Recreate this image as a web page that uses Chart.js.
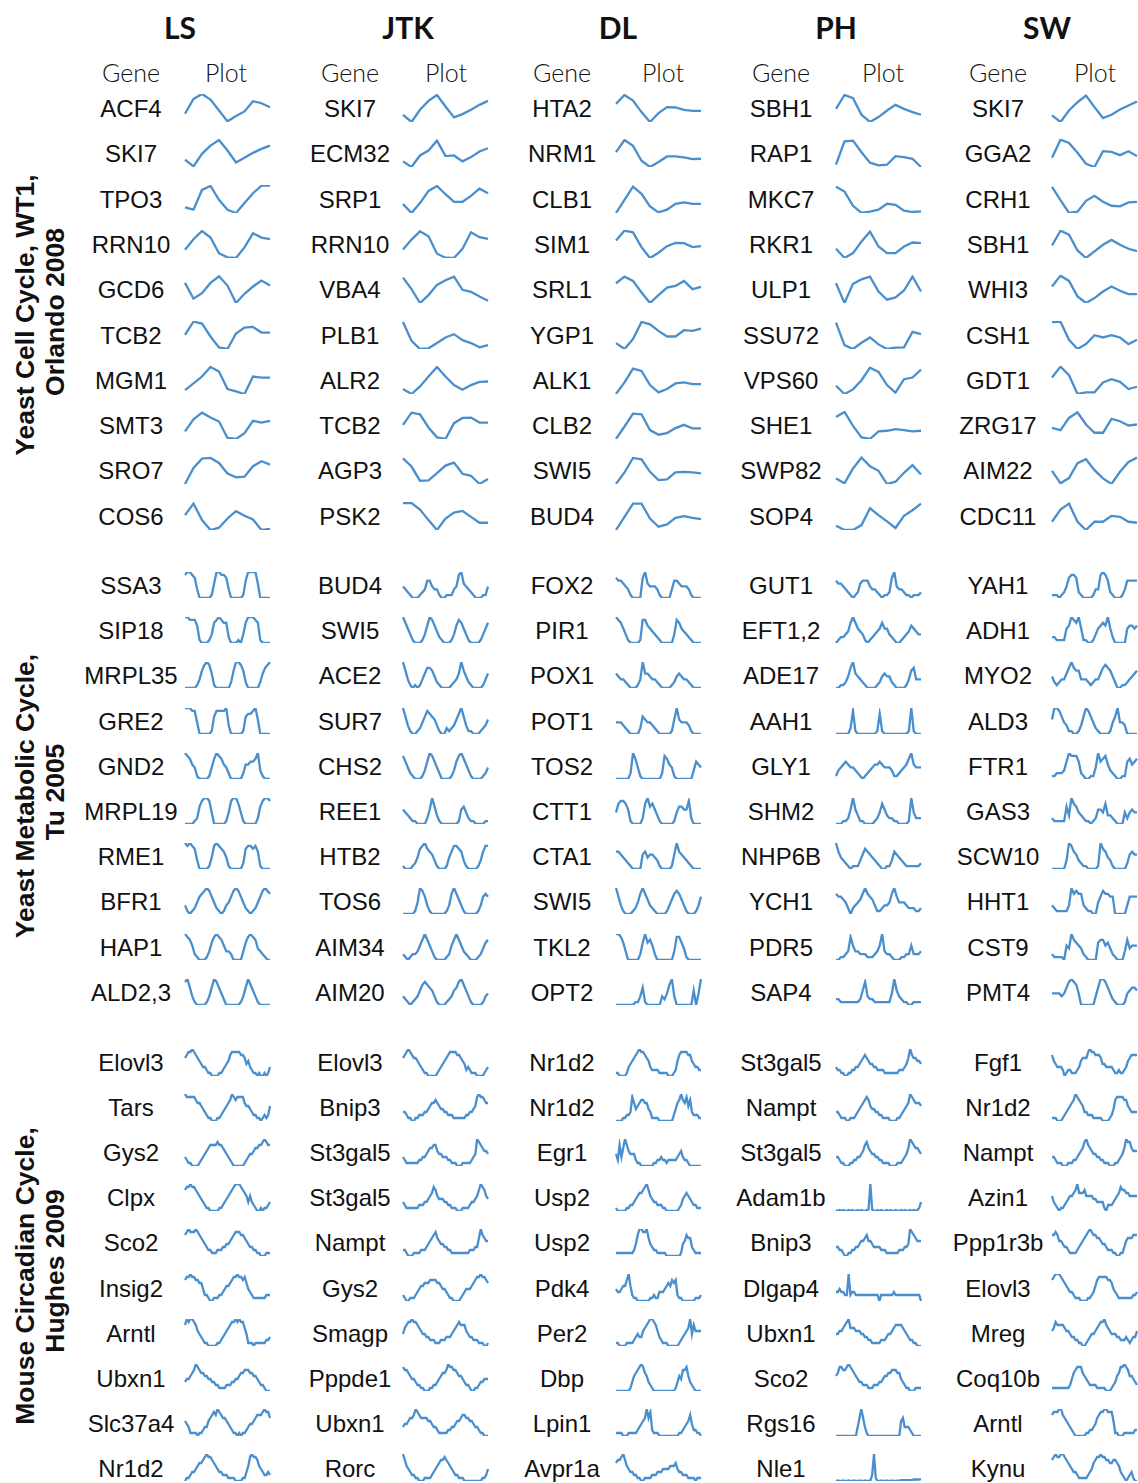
<!DOCTYPE html>
<html>
<head>
<meta charset="utf-8">
<script src="https://cdn.jsdelivr.net/npm/chart.js@4.4.0/dist/chart.umd.min.js"></script>
<style>
body { margin: 0; width: 1138px; height: 1483px; background: #fff; position: relative; overflow: hidden; font-family: 'Liberation Sans', Arial, sans-serif; color: #111; }
.t { position: absolute; white-space: nowrap; transform: translate(-50%, -50%); line-height: 1; }
.title { font-family: Lato, 'Noto Sans', sans-serif; font-weight: 700; font-size: 30px; }
.head { font-family: Lato, 'Noto Sans', sans-serif; font-weight: 300; font-size: 25px; }
.gene { font-size: 24px; }
.side { font-weight: 700; font-size: 26.5px; transform: translate(-50%, -50%) rotate(-90deg); }
canvas { position: absolute; }
</style>
</head>
<body>
<script>
const methods = ['LS', 'JTK', 'DL', 'PH', 'SW'];

// gene names, one list per method
const cellGenes = [
    ['ACF4', 'SKI7', 'TPO3', 'RRN10', 'GCD6', 'TCB2', 'MGM1', 'SMT3', 'SRO7', 'COS6'],
    ['SKI7', 'ECM32', 'SRP1', 'RRN10', 'VBA4', 'PLB1', 'ALR2', 'TCB2', 'AGP3', 'PSK2'],
    ['HTA2', 'NRM1', 'CLB1', 'SIM1', 'SRL1', 'YGP1', 'ALK1', 'CLB2', 'SWI5', 'BUD4'],
    ['SBH1', 'RAP1', 'MKC7', 'RKR1', 'ULP1', 'SSU72', 'VPS60', 'SHE1', 'SWP82', 'SOP4'],
    ['SKI7', 'GGA2', 'CRH1', 'SBH1', 'WHI3', 'CSH1', 'GDT1', 'ZRG17', 'AIM22', 'CDC11']
];
const metaGenes = [
    ['SSA3', 'SIP18', 'MRPL35', 'GRE2', 'GND2', 'MRPL19', 'RME1', 'BFR1', 'HAP1', 'ALD2,3'],
    ['BUD4', 'SWI5', 'ACE2', 'SUR7', 'CHS2', 'REE1', 'HTB2', 'TOS6', 'AIM34', 'AIM20'],
    ['FOX2', 'PIR1', 'POX1', 'POT1', 'TOS2', 'CTT1', 'CTA1', 'SWI5', 'TKL2', 'OPT2'],
    ['GUT1', 'EFT1,2', 'ADE17', 'AAH1', 'GLY1', 'SHM2', 'NHP6B', 'YCH1', 'PDR5', 'SAP4'],
    ['YAH1', 'ADH1', 'MYO2', 'ALD3', 'FTR1', 'GAS3', 'SCW10', 'HHT1', 'CST9', 'PMT4']
];
const circGenes = [
    ['Elovl3', 'Tars', 'Gys2', 'Clpx', 'Sco2', 'Insig2', 'Arntl', 'Ubxn1', 'Slc37a4', 'Nr1d2'],
    ['Elovl3', 'Bnip3', 'St3gal5', 'St3gal5', 'Nampt', 'Gys2', 'Smagp', 'Pppde1', 'Ubxn1', 'Rorc'],
    ['Nr1d2', 'Nr1d2', 'Egr1', 'Usp2', 'Usp2', 'Pdk4', 'Per2', 'Dbp', 'Lpin1', 'Avpr1a'],
    ['St3gal5', 'Nampt', 'St3gal5', 'Adam1b', 'Bnip3', 'Dlgap4', 'Ubxn1', 'Sco2', 'Rgs16', 'Nle1'],
    ['Fgf1', 'Nr1d2', 'Nampt', 'Azin1', 'Ppp1r3b', 'Elovl3', 'Mreg', 'Coq10b', 'Arntl', 'Kynu']
];

// Yeast cell cycle, 11 time points
const cellLS = [
    [25, 70, 85, 68, 35, 2, 18, 32, 63, 57, 45],
    [22, 2, 40, 65, 82, 50, 14, 28, 43, 55, 65],
    [17, 10, 70, 82, 40, 10, 0, 30, 60, 83, 83],
    [25, 57, 82, 62, 14, 2, 0, 32, 75, 62, 57],
    [61, 13, 30, 61, 81, 53, 0, 28, 50, 68, 53],
    [43, 83, 77, 38, 5, 0, 47, 65, 67, 50, 50],
    [12, 32, 53, 82, 68, 15, 8, 0, 53, 50, 50],
    [23, 60, 80, 65, 53, 3, 0, 18, 55, 50, 55],
    [0, 49, 77, 79, 64, 32, 20, 22, 54, 69, 59],
    [45, 80, 30, 0, 7, 35, 57, 43, 32, 0, 3]
];
const cellJTK = [
    [22, 0, 37, 64, 82, 47, 14, 24, 37, 52, 64],
    [17, 0, 35, 50, 80, 33, 35, 17, 30, 47, 57],
    [27, 0, 30, 67, 82, 57, 34, 34, 52, 74, 60],
    [26, 56, 81, 66, 13, 1, 0, 28, 78, 63, 58],
    [77, 42, 0, 24, 55, 69, 80, 40, 34, 20, 7],
    [82, 25, 0, 2, 18, 35, 45, 27, 18, 5, 12],
    [15, 0, 23, 53, 82, 53, 27, 13, 27, 37, 38],
    [43, 80, 75, 35, 5, 0, 48, 64, 65, 50, 50],
    [78, 53, 10, 11, 33, 56, 65, 31, 25, 0, 15],
    [82, 82, 62, 30, 0, 35, 53, 58, 40, 22, 22]
];
const cellDL = [
    [55, 82, 65, 30, 0, 27, 45, 44, 37, 34, 34],
    [45, 82, 64, 19, 0, 15, 32, 32, 29, 24, 25],
    [0, 40, 80, 58, 20, 2, 10, 28, 32, 28, 28],
    [53, 83, 78, 33, 0, 16, 36, 46, 45, 33, 36],
    [60, 80, 67, 32, 0, 24, 47, 52, 67, 42, 49],
    [18, 0, 30, 82, 75, 55, 38, 38, 57, 55, 62],
    [0, 35, 77, 70, 27, 5, 15, 32, 35, 30, 30],
    [0, 38, 77, 75, 27, 13, 18, 33, 43, 32, 32],
    [0, 35, 79, 75, 37, 12, 14, 35, 37, 35, 32],
    [0, 40, 80, 80, 35, 10, 17, 37, 42, 37, 33]
];
const cellPH = [
    [40, 82, 72, 22, 0, 15, 35, 52, 40, 30, 22],
    [7, 78, 80, 45, 13, 5, 7, 33, 30, 25, 0],
    [80, 65, 22, 0, 4, 10, 28, 25, 7, 3, 5],
    [28, 0, 15, 50, 80, 35, 15, 15, 35, 47, 45],
    [60, 0, 58, 72, 80, 35, 10, 17, 38, 80, 35],
    [80, 12, 0, 19, 35, 14, 0, 4, 5, 52, 45],
    [25, 0, 14, 42, 80, 67, 27, 4, 45, 50, 74],
    [67, 82, 40, 5, 0, 23, 25, 30, 27, 23, 25],
    [17, 2, 47, 80, 54, 40, 0, 7, 34, 57, 29],
    [13, 0, 0, 15, 66, 45, 26, 6, 43, 60, 80]
];
const cellSW = [
    [20, 0, 35, 60, 80, 45, 12, 22, 38, 50, 62],
    [28, 83, 73, 43, 10, 0, 48, 46, 36, 48, 33],
    [79, 39, 0, 4, 37, 52, 34, 22, 20, 32, 34],
    [38, 83, 71, 23, 0, 20, 40, 55, 40, 28, 21],
    [50, 83, 67, 20, 0, 15, 35, 50, 37, 27, 27],
    [82, 83, 28, 0, 15, 42, 35, 42, 35, 15, 28],
    [50, 83, 57, 0, 5, 5, 35, 45, 37, 15, 22],
    [34, 27, 64, 81, 44, 19, 19, 61, 54, 41, 44],
    [40, 2, 18, 63, 75, 42, 17, 0, 37, 67, 80],
    [25, 62, 80, 25, 0, 25, 25, 43, 40, 25, 22]
];

// Yeast metabolic cycle, 36 time points
const metaLS = [
    [8, 9, 9, 8, 7, 3, 0, 0, 0, 0, 0, 1, 5, 9, 9, 8, 8, 7, 3, 0, 0, 0, 0, 0, 1, 6, 9, 9, 9, 9, 5, 0, 0, 0, 0, 0],
    [9, 9, 8, 8, 8, 6, 1, 0, 0, 0, 1, 3, 7, 8, 9, 8, 7, 7, 2, 0, 0, 0, 1, 0, 3, 7, 9, 9, 9, 8, 7, 1, 0, 0, 0, 0],
    [0, 0, 0, 0, 0, 1, 3, 6, 8, 9, 8, 5, 1, 0, 0, 0, 0, 0, 0, 2, 6, 9, 9, 8, 6, 2, 0, 0, 0, 0, 0, 2, 5, 7, 8, 9],
    [9, 9, 9, 8, 8, 4, 0, 0, 0, 0, 0, 1, 6, 8, 8, 8, 8, 9, 3, 0, 0, 0, 0, 0, 1, 6, 7, 7, 8, 9, 5, 0, 0, 0, 0, 0],
    [9, 8, 7, 5, 4, 1, 0, 0, 0, 0, 1, 4, 7, 9, 8, 7, 5, 4, 2, 0, 0, 0, 0, 0, 2, 5, 5, 6, 6, 7, 9, 3, 1, 0, 0, 0],
    [0, 0, 0, 0, 1, 2, 6, 8, 9, 9, 8, 4, 0, 0, 0, 0, 0, 1, 4, 8, 9, 9, 7, 4, 1, 0, 0, 0, 0, 0, 2, 6, 8, 9, 9, 8],
    [9, 8, 9, 8, 7, 3, 0, 0, 0, 0, 1, 4, 8, 9, 8, 7, 6, 4, 1, 0, 0, 0, 0, 0, 2, 7, 8, 8, 7, 8, 6, 1, 0, 0, 0, 0],
    [3, 1, 0, 1, 2, 4, 6, 7, 8, 9, 8, 6, 4, 2, 1, 0, 1, 3, 4, 6, 8, 9, 8, 6, 4, 2, 1, 0, 1, 2, 4, 6, 8, 9, 8, 7],
    [9, 8, 7, 5, 2, 1, 0, 0, 0, 1, 3, 6, 8, 9, 8, 7, 5, 3, 3, 2, 0, 0, 0, 0, 3, 6, 8, 9, 8, 7, 4, 3, 2, 1, 0, 0],
    [8, 9, 6, 3, 1, 0, 0, 0, 0, 1, 3, 6, 9, 8, 6, 4, 2, 0, 0, 0, 0, 0, 0, 1, 3, 6, 9, 7, 5, 3, 1, 0, 0, 0, 0, 0]
];
const metaJTK = [
    [4, 3, 2, 1, 0, 0, 0, 1, 2, 3, 6, 6, 4, 3, 3, 1, 0, 0, 1, 1, 1, 3, 4, 8, 9, 5, 4, 3, 2, 1, 0, 0, 0, 1, 1, 4],
    [9, 7, 5, 3, 1, 0, 0, 0, 1, 3, 6, 9, 8, 6, 4, 2, 1, 0, 0, 0, 1, 3, 6, 8, 7, 5, 3, 1, 0, 0, 0, 0, 1, 3, 5, 7],
    [9, 6, 3, 1, 0, 1, 0, 1, 3, 5, 7, 7, 6, 4, 2, 1, 0, 0, 0, 0, 1, 2, 3, 5, 9, 6, 4, 2, 1, 0, 0, 0, 0, 1, 3, 5],
    [9, 6, 3, 1, 0, 0, 1, 2, 4, 6, 8, 7, 6, 5, 3, 1, 0, 0, 2, 1, 2, 3, 5, 7, 9, 6, 3, 1, 1, 0, 0, 0, 1, 2, 3, 5],
    [8, 6, 4, 2, 1, 0, 0, 0, 1, 3, 6, 9, 8, 6, 4, 2, 0, 0, 0, 0, 1, 3, 6, 8, 9, 7, 5, 3, 1, 0, 0, 0, 0, 1, 2, 4],
    [5, 4, 3, 2, 1, 1, 0, 0, 0, 0, 2, 5, 9, 6, 3, 1, 0, 0, 0, 0, 0, 0, 0, 1, 5, 6, 4, 2, 1, 1, 0, 0, 0, 0, 1, 1],
    [1, 0, 0, 0, 1, 2, 4, 7, 8, 9, 7, 6, 5, 3, 1, 0, 0, 0, 1, 4, 6, 8, 8, 7, 6, 3, 1, 0, 0, 0, 0, 1, 3, 6, 8, 8],
    [0, 0, 0, 0, 0, 1, 4, 9, 8, 6, 3, 1, 0, 0, 0, 0, 0, 0, 1, 3, 7, 9, 7, 5, 3, 1, 0, 0, 0, 0, 0, 1, 3, 6, 7, 6],
    [2, 1, 0, 1, 2, 2, 3, 5, 7, 9, 7, 5, 3, 1, 0, 0, 0, 0, 1, 2, 5, 7, 9, 7, 5, 3, 2, 1, 0, 0, 0, 1, 2, 4, 6, 7],
    [3, 2, 1, 0, 1, 2, 3, 5, 7, 8, 7, 6, 5, 3, 1, 0, 0, 0, 1, 2, 3, 5, 6, 8, 9, 7, 5, 3, 1, 0, 0, 0, 0, 1, 3, 4]
];
const metaDL = [
    [7, 6, 6, 5, 4, 3, 1, 0, 0, 0, 0, 7, 9, 5, 4, 4, 4, 3, 1, 0, 0, 0, 0, 3, 6, 6, 5, 4, 4, 4, 3, 1, 0, 0, 0, 0],
    [9, 8, 7, 5, 3, 1, 0, 0, 0, 0, 1, 8, 8, 6, 5, 4, 3, 2, 1, 0, 0, 0, 0, 0, 3, 8, 7, 5, 4, 3, 2, 1, 0, 0, 0, 0],
    [5, 4, 3, 3, 2, 1, 0, 0, 0, 1, 3, 9, 5, 5, 4, 3, 3, 2, 1, 0, 0, 0, 0, 1, 2, 4, 5, 4, 3, 3, 2, 1, 0, 0, 0, 0],
    [4, 4, 4, 3, 2, 1, 0, 0, 0, 0, 2, 6, 5, 4, 4, 3, 2, 1, 0, 0, 0, 0, 0, 1, 5, 9, 5, 4, 4, 4, 3, 1, 0, 0, 0, 0],
    [0, 0, 0, 0, 0, 0, 2, 9, 7, 4, 1, 0, 0, 0, 0, 0, 0, 0, 0, 2, 8, 7, 5, 4, 1, 0, 0, 0, 0, 0, 0, 0, 3, 6, 5, 4],
    [4, 7, 8, 8, 7, 5, 1, 0, 0, 0, 0, 2, 7, 9, 6, 7, 5, 3, 1, 0, 0, 0, 0, 0, 1, 4, 6, 6, 5, 5, 8, 2, 0, 0, 0, 0],
    [6, 6, 5, 4, 3, 2, 1, 0, 0, 0, 0, 5, 6, 4, 5, 5, 4, 3, 1, 0, 0, 0, 0, 1, 5, 9, 6, 5, 4, 3, 2, 1, 0, 0, 0, 0],
    [9, 6, 3, 1, 0, 0, 0, 1, 2, 4, 7, 9, 7, 5, 3, 2, 1, 0, 0, 0, 0, 1, 3, 5, 7, 8, 7, 5, 3, 1, 0, 0, 0, 1, 3, 6],
    [9, 9, 8, 6, 3, 0, 0, 0, 0, 0, 2, 6, 9, 6, 7, 5, 2, 0, 0, 0, 0, 0, 0, 0, 3, 8, 8, 6, 4, 1, 0, 0, 0, 0, 0, 0],
    [0, 0, 0, 0, 0, 0, 0, 0, 1, 1, 3, 6, 1, 0, 0, 0, 0, 0, 0, 3, 2, 4, 7, 9, 3, 0, 0, 0, 0, 0, 0, 0, 5, 0, 4, 9]
];
const metaPH = [
    [6, 5, 5, 4, 3, 2, 1, 0, 1, 2, 5, 6, 6, 6, 4, 3, 3, 2, 1, 0, 1, 1, 2, 7, 9, 4, 3, 3, 2, 1, 1, 0, 1, 1, 1, 2],
    [0, 1, 2, 2, 3, 4, 7, 9, 7, 5, 4, 3, 1, 0, 1, 2, 3, 4, 5, 7, 5, 5, 3, 2, 1, 0, 0, 1, 2, 3, 4, 6, 5, 4, 3, 3],
    [0, 0, 1, 1, 2, 4, 7, 9, 5, 4, 3, 2, 1, 0, 0, 0, 0, 1, 2, 4, 5, 4, 4, 2, 1, 0, 0, 0, 0, 1, 3, 6, 7, 3, 3, 3],
    [0, 0, 0, 0, 0, 0, 2, 8, 1, 0, 0, 0, 0, 0, 0, 0, 0, 1, 7, 1, 0, 0, 0, 0, 0, 0, 0, 0, 0, 0, 1, 9, 1, 0, 0, 0],
    [1, 3, 4, 5, 6, 5, 4, 4, 3, 2, 1, 0, 1, 2, 3, 4, 5, 5, 6, 5, 4, 4, 4, 3, 1, 1, 2, 3, 4, 5, 7, 9, 5, 4, 4, 4],
    [0, 0, 0, 1, 1, 2, 5, 9, 5, 3, 1, 1, 0, 0, 0, 0, 1, 2, 4, 7, 5, 3, 2, 2, 1, 1, 0, 0, 0, 0, 1, 9, 4, 2, 2, 2],
    [9, 6, 4, 3, 2, 1, 0, 1, 1, 1, 3, 5, 7, 6, 5, 4, 3, 2, 1, 0, 0, 1, 1, 3, 6, 5, 4, 3, 2, 1, 1, 1, 1, 1, 1, 2],
    [7, 6, 6, 5, 4, 2, 0, 2, 3, 4, 5, 7, 9, 7, 6, 5, 3, 1, 1, 2, 3, 3, 4, 7, 9, 6, 4, 4, 4, 3, 2, 2, 2, 1, 1, 2],
    [0, 0, 1, 1, 2, 3, 8, 5, 3, 3, 2, 2, 2, 1, 1, 1, 2, 3, 5, 9, 3, 2, 2, 1, 0, 0, 0, 1, 1, 2, 2, 5, 2, 2, 2, 3],
    [2, 2, 1, 1, 1, 1, 1, 1, 1, 1, 2, 5, 8, 3, 2, 2, 1, 1, 1, 1, 1, 1, 1, 4, 9, 5, 3, 2, 1, 1, 0, 0, 1, 1, 1, 1]
];
const metaSW = [
    [1, 1, 1, 0, 1, 2, 4, 7, 8, 8, 7, 2, 1, 0, 0, 0, 0, 1, 3, 3, 8, 9, 8, 6, 2, 1, 0, 0, 0, 1, 3, 6, 6, 6, 6, 6],
    [2, 2, 1, 1, 1, 1, 5, 6, 9, 8, 7, 9, 5, 1, 1, 0, 0, 1, 3, 5, 6, 7, 6, 9, 5, 2, 0, 0, 0, 0, 0, 5, 6, 6, 5, 6],
    [4, 2, 1, 2, 3, 3, 5, 7, 9, 7, 6, 6, 3, 3, 3, 2, 1, 2, 3, 3, 5, 7, 8, 7, 6, 4, 2, 0, 0, 1, 1, 2, 3, 4, 5, 6],
    [5, 9, 9, 8, 6, 4, 3, 1, 1, 0, 0, 1, 3, 6, 9, 8, 6, 4, 2, 1, 0, 0, 0, 0, 1, 4, 6, 9, 4, 4, 3, 0, 0, 0, 0, 0],
    [1, 1, 2, 2, 2, 3, 6, 9, 8, 8, 8, 6, 2, 1, 0, 0, 1, 1, 4, 9, 6, 7, 8, 5, 3, 2, 1, 0, 0, 1, 1, 6, 7, 5, 6, 7],
    [2, 1, 1, 1, 1, 1, 6, 3, 9, 7, 6, 4, 3, 2, 1, 1, 0, 1, 2, 5, 5, 4, 7, 3, 3, 2, 1, 0, 0, 0, 4, 2, 4, 5, 4, 4],
    [0, 0, 0, 0, 0, 0, 3, 9, 8, 6, 5, 3, 2, 1, 1, 0, 0, 0, 0, 1, 9, 7, 6, 4, 3, 1, 0, 0, 0, 0, 0, 2, 5, 6, 5, 5],
    [3, 2, 1, 1, 1, 1, 1, 3, 9, 7, 8, 7, 7, 3, 2, 1, 1, 0, 0, 4, 6, 8, 7, 7, 6, 6, 0, 0, 0, 0, 0, 3, 6, 6, 6, 6],
    [2, 1, 1, 1, 1, 0, 5, 4, 9, 7, 6, 5, 4, 2, 1, 0, 0, 0, 0, 6, 7, 7, 5, 6, 4, 2, 1, 0, 0, 0, 3, 7, 4, 5, 5, 5],
    [4, 4, 4, 4, 3, 4, 6, 8, 9, 8, 7, 4, 0, 0, 0, 0, 0, 0, 3, 6, 9, 9, 8, 6, 4, 2, 1, 0, 0, 0, 1, 4, 5, 6, 6, 5]
];

// Mouse circadian cycle, 48 time points
const circLS = [
    [6, 7, 8, 8, 9, 8, 7, 6, 5, 4, 3, 3, 2, 1, 1, 0, 0, 0, 0, 1, 1, 2, 3, 4, 5, 7, 8, 8, 8, 8, 8, 7, 7, 6, 4, 5, 3, 2, 1, 1, 0, 1, 0, 0, 1, 0, 1, 3],
    [9, 8, 8, 8, 8, 8, 7, 6, 6, 5, 4, 3, 2, 1, 1, 0, 0, 0, 1, 1, 2, 3, 4, 5, 6, 7, 9, 8, 7, 8, 8, 8, 8, 6, 5, 5, 4, 3, 2, 2, 1, 1, 0, 1, 2, 1, 2, 5],
    [3, 2, 1, 1, 0, 0, 0, 0, 1, 2, 3, 4, 5, 6, 7, 7, 7, 7, 8, 7, 7, 6, 5, 4, 3, 2, 1, 0, 0, 0, 0, 0, 0, 1, 2, 3, 4, 4, 5, 6, 6, 7, 7, 8, 9, 8, 7, 7],
    [7, 8, 8, 9, 8, 8, 7, 6, 5, 4, 3, 2, 1, 1, 0, 0, 0, 0, 0, 1, 1, 2, 3, 4, 5, 6, 7, 8, 9, 9, 9, 8, 7, 6, 5, 3, 5, 3, 2, 1, 0, 0, 1, 0, 1, 1, 2, 3],
    [7, 8, 9, 8, 8, 8, 9, 8, 7, 6, 5, 4, 3, 2, 2, 1, 1, 1, 2, 2, 2, 3, 3, 4, 4, 5, 6, 7, 8, 8, 8, 7, 7, 6, 5, 4, 3, 3, 2, 2, 1, 1, 0, 0, 0, 1, 1, 1],
    [7, 8, 8, 9, 8, 8, 7, 7, 6, 6, 4, 2, 2, 1, 0, 0, 1, 1, 1, 2, 2, 3, 4, 5, 5, 6, 7, 8, 8, 9, 8, 8, 7, 8, 6, 4, 3, 2, 1, 1, 1, 1, 1, 1, 1, 2, 2, 2],
    [7, 9, 8, 9, 9, 8, 7, 5, 4, 3, 2, 1, 1, 0, 0, 0, 0, 0, 1, 1, 2, 3, 4, 5, 6, 7, 8, 8, 9, 8, 9, 8, 8, 6, 4, 1, 1, 1, 0, 1, 1, 1, 1, 1, 1, 2, 2, 3],
    [3, 4, 4, 5, 6, 7, 9, 8, 7, 6, 6, 5, 5, 4, 4, 3, 3, 2, 2, 1, 1, 1, 1, 2, 2, 2, 3, 3, 4, 4, 5, 6, 6, 7, 7, 7, 6, 6, 5, 5, 4, 3, 2, 2, 1, 0, 0, 0],
    [5, 4, 3, 1, 1, 1, 1, 0, 1, 1, 2, 3, 3, 5, 6, 7, 8, 7, 9, 8, 7, 6, 6, 5, 4, 3, 2, 1, 1, 0, 1, 0, 1, 1, 2, 3, 4, 4, 5, 6, 7, 7, 7, 8, 9, 8, 8, 6],
    [0, 1, 1, 2, 3, 3, 4, 5, 6, 6, 7, 8, 9, 8, 8, 7, 6, 5, 4, 3, 3, 2, 2, 2, 1, 1, 1, 1, 0, 0, 0, 0, 1, 1, 3, 5, 8, 9, 8, 8, 7, 5, 4, 3, 2, 2, 3, 2]
];
const circJTK = [
    [6, 7, 8, 9, 8, 7, 6, 6, 5, 4, 3, 2, 1, 1, 0, 0, 0, 0, 0, 1, 2, 3, 4, 5, 6, 7, 8, 8, 8, 8, 7, 7, 6, 5, 4, 2, 3, 2, 1, 1, 1, 0, 0, 0, 0, 1, 2, 3],
    [3, 3, 2, 1, 1, 0, 0, 1, 1, 2, 2, 2, 3, 3, 4, 5, 6, 6, 7, 6, 5, 4, 4, 3, 3, 2, 2, 2, 1, 1, 1, 1, 1, 1, 1, 2, 2, 3, 3, 4, 5, 8, 9, 8, 8, 7, 6, 6],
    [3, 2, 1, 1, 1, 1, 1, 1, 1, 2, 2, 3, 3, 4, 5, 6, 6, 7, 7, 5, 4, 4, 3, 3, 3, 2, 2, 1, 1, 1, 0, 0, 0, 1, 1, 1, 1, 1, 2, 3, 4, 9, 8, 7, 6, 5, 5, 4],
    [3, 2, 1, 1, 1, 1, 1, 1, 1, 2, 2, 2, 3, 3, 4, 5, 6, 8, 7, 5, 4, 4, 4, 3, 3, 2, 2, 1, 1, 1, 0, 0, 0, 1, 1, 1, 1, 2, 3, 3, 4, 5, 7, 9, 8, 7, 5, 4],
    [2, 2, 1, 0, 0, 0, 1, 1, 1, 1, 2, 2, 2, 3, 4, 5, 6, 7, 8, 6, 5, 4, 4, 3, 3, 2, 2, 1, 1, 1, 1, 1, 1, 1, 1, 1, 1, 2, 2, 2, 3, 3, 6, 9, 7, 6, 5, 5],
    [2, 1, 0, 0, 1, 1, 1, 2, 3, 4, 5, 5, 6, 6, 6, 7, 7, 7, 7, 6, 6, 5, 4, 4, 3, 2, 1, 1, 0, 0, 0, 0, 1, 2, 3, 4, 4, 4, 5, 6, 7, 8, 8, 9, 8, 8, 7, 6],
    [4, 6, 7, 8, 8, 9, 8, 8, 7, 6, 5, 4, 4, 3, 3, 2, 2, 2, 1, 1, 1, 2, 2, 2, 3, 3, 3, 4, 5, 6, 7, 8, 7, 7, 7, 5, 4, 3, 3, 2, 2, 2, 1, 1, 1, 0, 0, 1],
    [8, 7, 7, 6, 5, 4, 4, 3, 2, 2, 1, 1, 0, 0, 0, 1, 1, 2, 2, 3, 4, 5, 6, 6, 7, 9, 8, 8, 7, 7, 6, 5, 5, 4, 3, 2, 2, 1, 0, 0, 1, 1, 2, 3, 3, 4, 4, 4],
    [3, 4, 4, 5, 6, 6, 7, 9, 8, 7, 6, 6, 6, 6, 5, 5, 4, 3, 3, 2, 1, 1, 1, 1, 1, 2, 2, 3, 3, 4, 5, 5, 6, 7, 7, 6, 6, 5, 5, 4, 3, 3, 2, 1, 1, 0, 0, 0],
    [9, 7, 5, 4, 3, 2, 2, 1, 1, 0, 0, 0, 1, 1, 1, 1, 2, 3, 4, 5, 6, 7, 7, 8, 7, 6, 5, 4, 3, 2, 2, 1, 1, 1, 0, 0, 0, 0, 0, 0, 0, 0, 0, 0, 1, 1, 2, 4]
];
const circDL = [
    [1, 1, 0, 0, 0, 0, 1, 3, 4, 5, 6, 7, 8, 9, 8, 8, 7, 6, 5, 3, 2, 2, 2, 2, 1, 1, 1, 1, 1, 0, 0, 0, 1, 2, 5, 7, 8, 8, 8, 8, 7, 7, 5, 4, 3, 3, 2, 2],
    [0, 0, 0, 0, 1, 1, 2, 2, 3, 8, 6, 4, 5, 6, 7, 7, 6, 6, 4, 3, 1, 1, 1, 1, 0, 0, 0, 0, 0, 0, 0, 0, 2, 4, 6, 7, 9, 7, 6, 8, 5, 7, 3, 2, 2, 2, 1, 1],
    [4, 2, 7, 3, 6, 9, 7, 5, 4, 4, 4, 2, 1, 1, 0, 0, 0, 0, 0, 0, 0, 1, 1, 2, 2, 3, 2, 2, 1, 2, 2, 2, 2, 2, 3, 4, 5, 3, 2, 2, 1, 0, 0, 0, 0, 0, 0, 0],
    [1, 0, 0, 0, 0, 0, 1, 1, 2, 2, 3, 4, 5, 6, 6, 7, 8, 9, 7, 5, 4, 3, 3, 2, 2, 2, 1, 1, 0, 0, 0, 0, 0, 0, 0, 1, 2, 4, 5, 6, 5, 4, 3, 2, 2, 1, 1, 1],
    [1, 1, 1, 1, 1, 1, 1, 1, 1, 1, 2, 4, 7, 9, 9, 8, 8, 9, 6, 4, 3, 2, 2, 1, 1, 1, 1, 1, 0, 0, 0, 0, 0, 0, 0, 0, 1, 4, 5, 7, 6, 6, 3, 2, 1, 1, 1, 1],
    [4, 3, 3, 4, 5, 5, 7, 9, 5, 2, 1, 1, 0, 0, 0, 0, 0, 0, 0, 1, 1, 2, 1, 1, 3, 3, 3, 4, 5, 6, 5, 7, 6, 7, 2, 1, 1, 0, 0, 0, 0, 0, 0, 0, 1, 1, 1, 2],
    [1, 1, 0, 0, 0, 0, 1, 1, 1, 1, 2, 3, 4, 3, 3, 5, 6, 7, 8, 9, 9, 8, 7, 5, 3, 2, 1, 1, 1, 0, 0, 0, 0, 0, 0, 1, 2, 3, 4, 5, 6, 9, 4, 7, 5, 5, 5, 5],
    [0, 0, 0, 0, 0, 0, 0, 0, 1, 3, 5, 6, 7, 8, 9, 8, 6, 5, 3, 2, 1, 0, 0, 0, 0, 0, 0, 0, 0, 0, 0, 0, 0, 1, 3, 5, 4, 7, 7, 8, 5, 3, 2, 1, 0, 0, 0, 0],
    [1, 1, 1, 1, 0, 0, 0, 1, 1, 1, 1, 1, 2, 3, 4, 5, 6, 9, 6, 8, 2, 1, 1, 1, 0, 0, 0, 0, 0, 0, 0, 0, 0, 0, 0, 1, 1, 2, 3, 4, 5, 7, 4, 2, 2, 1, 1, 0],
    [6, 7, 7, 8, 9, 7, 5, 4, 3, 3, 2, 2, 1, 1, 0, 0, 1, 1, 1, 1, 2, 2, 2, 3, 3, 3, 4, 4, 4, 4, 5, 5, 5, 6, 4, 3, 3, 2, 2, 2, 1, 1, 1, 1, 0, 1, 1, 1]
];
const circPH = [
    [3, 2, 2, 1, 1, 0, 0, 1, 1, 2, 2, 3, 3, 4, 5, 6, 7, 6, 5, 4, 4, 3, 3, 2, 2, 2, 2, 1, 1, 1, 1, 1, 1, 1, 1, 2, 2, 2, 3, 4, 6, 9, 7, 6, 6, 5, 5, 4],
    [3, 3, 2, 1, 1, 1, 0, 0, 1, 1, 1, 2, 3, 4, 5, 6, 7, 8, 7, 5, 4, 4, 3, 3, 2, 2, 1, 1, 1, 1, 0, 0, 0, 0, 1, 1, 2, 3, 4, 5, 6, 9, 8, 7, 6, 6, 6, 5],
    [3, 3, 2, 1, 1, 0, 0, 0, 1, 1, 2, 2, 3, 3, 4, 5, 7, 8, 6, 5, 4, 4, 3, 3, 2, 2, 1, 1, 1, 1, 0, 0, 0, 0, 1, 1, 1, 2, 3, 4, 6, 9, 8, 7, 6, 6, 5, 4],
    [0.3, 0, 0.3, 0, 0.3, 0, 0, 0.3, 0, 0.3, 0, 0, 0.3, 0, 0.3, 0, 0, 0.3, 0.5, 9, 0.5, 0, 0, 0.3, 0, 0.3, 0, 0, 0.3, 0, 0.3, 0, 0, 0.3, 0, 0, 0.3, 0, 0.3, 0, 0, 0.3, 0, 0.3, 0, 0.3, 1, 3],
    [3, 3, 2, 2, 1, 0, 0, 1, 1, 2, 2, 3, 3, 4, 5, 5, 6, 7, 5, 5, 4, 3, 3, 3, 3, 2, 2, 2, 1, 1, 1, 1, 1, 1, 1, 2, 2, 2, 3, 3, 4, 9, 8, 7, 6, 5, 5, 5],
    [3, 3, 4, 3, 3, 2, 2, 9, 2, 3, 3, 2, 2, 2, 2, 2, 2, 2, 2, 2, 2, 2, 2, 2, 0, 2, 2, 2, 2, 2, 2, 2, 3, 2, 2, 2, 2, 2, 2, 2, 2, 2, 2, 2, 2, 2, 2, 0],
    [4, 4, 5, 5, 6, 7, 8, 9, 6, 6, 6, 5, 5, 5, 4, 4, 3, 3, 2, 2, 1, 1, 1, 1, 1, 2, 2, 2, 3, 4, 4, 5, 6, 7, 7, 7, 7, 6, 5, 4, 3, 2, 2, 1, 1, 0, 0, 0],
    [5, 6, 8, 8, 7, 7, 8, 9, 8, 7, 6, 5, 4, 3, 3, 2, 2, 2, 1, 1, 1, 2, 2, 2, 3, 3, 4, 5, 5, 6, 6, 7, 7, 7, 6, 6, 4, 3, 2, 1, 1, 0, 0, 0, 1, 1, 1, 1],
    [0, 0, 0, 0, 0, 0, 0, 0, 0, 0, 0, 0, 3, 6, 9, 6, 3, 1, 0, 0, 0, 0, 0, 0, 0, 0, 0, 0, 0, 0, 0, 0, 0, 0, 0, 0, 5, 6, 3, 3, 3, 2, 1, 0, 0, 0, 0, 0],
    [0, 0.2, 0, 0, 0.2, 0, 0, 0.2, 0, 0, 0.2, 0, 0, 0.2, 0, 0, 0.2, 0, 0, 0.2, 2, 9, 1, 0, 0, 0.2, 0, 0, 0.2, 0, 0, 0.2, 0, 0, 0.2, 0, 0.3, 0.3, 0.3, 0.3, 0.3, 0.3, 0.3, 0.5, 0.5, 0.5, 0.5, 0.6]
];
const circSW = [
    [7, 5, 4, 3, 3, 3, 2, 0, 1, 2, 2, 1, 1, 1, 2, 3, 5, 6, 6, 6, 8, 9, 8, 8, 7, 7, 7, 6, 4, 4, 3, 3, 3, 3, 2, 1, 1, 2, 1, 1, 2, 3, 5, 6, 7, 7, 7, 7],
    [1, 1, 1, 0, 0, 0, 1, 2, 3, 4, 5, 6, 7, 9, 8, 7, 6, 5, 3, 3, 2, 2, 2, 1, 1, 1, 1, 1, 0, 0, 0, 0, 1, 2, 4, 7, 8, 8, 8, 8, 7, 7, 5, 4, 3, 3, 3, 3],
    [3, 3, 2, 1, 1, 1, 0, 0, 0, 1, 1, 1, 2, 2, 3, 4, 5, 6, 8, 9, 7, 6, 5, 4, 4, 3, 3, 2, 2, 1, 1, 1, 0, 0, 0, 1, 1, 2, 3, 4, 6, 9, 8, 8, 6, 5, 5, 5],
    [5, 3, 2, 1, 0, 1, 1, 2, 3, 4, 5, 5, 6, 7, 9, 6, 6, 6, 7, 5, 5, 5, 5, 4, 4, 3, 3, 3, 3, 1, 0, 2, 2, 2, 3, 4, 5, 6, 8, 7, 7, 6, 6, 5, 5, 5, 5, 5],
    [7, 7, 8, 7, 5, 5, 4, 3, 3, 2, 1, 1, 1, 1, 2, 3, 4, 5, 6, 7, 8, 9, 8, 7, 7, 6, 6, 5, 4, 4, 3, 2, 2, 2, 1, 1, 0, 0, 1, 1, 3, 5, 6, 6, 6, 7, 7, 7],
    [7, 8, 9, 9, 9, 8, 7, 6, 5, 4, 3, 3, 2, 1, 1, 1, 0, 0, 0, 0, 1, 1, 2, 3, 5, 7, 8, 8, 8, 8, 8, 7, 7, 6, 4, 3, 2, 1, 1, 1, 1, 1, 1, 1, 1, 2, 2, 3],
    [5, 6, 8, 7, 7, 7, 7, 6, 5, 5, 4, 3, 3, 2, 2, 1, 1, 0, 0, 1, 2, 3, 4, 4, 5, 6, 7, 8, 8, 9, 7, 6, 5, 4, 4, 4, 3, 3, 2, 2, 2, 3, 2, 1, 2, 3, 3, 5],
    [1, 1, 1, 1, 1, 1, 1, 1, 1, 1, 2, 4, 6, 7, 8, 8, 8, 6, 5, 4, 3, 2, 2, 2, 2, 1, 1, 1, 1, 1, 0, 0, 0, 1, 2, 3, 5, 6, 8, 8, 9, 8, 7, 5, 5, 4, 3, 2],
    [7, 8, 8, 8, 9, 9, 7, 6, 5, 4, 3, 2, 1, 0, 0, 0, 0, 0, 0, 1, 1, 2, 2, 3, 4, 6, 7, 8, 8, 9, 9, 8, 8, 8, 5, 1, 1, 0, 0, 0, 1, 1, 1, 1, 1, 1, 2, 2],
    [7, 8, 9, 8, 8, 9, 9, 8, 7, 6, 5, 4, 3, 3, 2, 1, 1, 1, 1, 1, 2, 3, 4, 6, 7, 8, 8, 9, 8, 8, 7, 7, 6, 6, 7, 7, 6, 5, 3, 2, 1, 0, 1, 2, 3, 1, 0, 0]
];

// layout
const LINE = '#4a8fcd';
const titleX = [180, 408, 618, 836, 1047];
const geneX = [131, 350, 562, 781, 998];
const plotHeadX = [226, 446, 663, 883, 1095];
const plotLeft = [185, 403, 616, 836, 1052];
const plotW = 85;

const sections = [
    { genes: cellGenes, series: [cellLS, cellJTK, cellDL, cellPH, cellSW], y0: 109, pitch: 45.3, h: 28, max: 85,
      side: ['Yeast Cell Cycle, WT1,', 'Orlando 2008'], sideY: [315, 312] },
    { genes: metaGenes, series: [metaLS, metaJTK, metaDL, metaPH, metaSW], y0: 586, pitch: 45.2, h: 26, max: 9,
      side: ['Yeast Metabolic Cycle,', 'Tu 2005'], sideY: [796, 792] },
    { genes: circGenes, series: [circLS, circJTK, circDL, circPH, circSW], y0: 1063, pitch: 45.1, h: 27, max: 9,
      side: ['Mouse Circadian Cycle,', 'Hughes 2009'], sideY: [1276, 1271] }
];

const addText = (txt, cls, x, y) => {
    const d = document.createElement('div');
    d.className = 't ' + cls;
    d.textContent = txt;
    d.style.left = x + 'px';
    d.style.top = y + 'px';
    document.body.appendChild(d);
};

const drawSpark = (x, yc, h, values, yMax) => {
    const pad = 2;
    const c = document.createElement('canvas');
    c.width = plotW + pad * 2;
    c.height = h + pad * 2;
    c.style.left = (x - pad) + 'px';
    c.style.top = Math.round(yc - h / 2 - pad) + 'px';
    document.body.appendChild(c);
    return new Chart(c.getContext('2d'), {
        type: 'line',
        data: {
            labels: values.map((v, i) => i),
            datasets: [{ data: values, borderColor: LINE, borderWidth: 2.3, pointRadius: 0, tension: 0, fill: false }]
        },
        options: {
            responsive: false,
            animation: false,
            events: [],
            layout: { padding: pad },
            plugins: { legend: { display: false }, tooltip: { enabled: false } },
            scales: {
                x: { display: false },
                y: { display: false, min: 0, max: yMax }
            }
        }
    });
};

methods.forEach((m, i) => {
    addText(m, 'title', titleX[i], 27);
    addText('Gene', 'head', geneX[i], 72);
    addText('Plot', 'head', plotHeadX[i], 72);
});

sections.forEach(sec => {
    addText(sec.side[0], 'side', 25, sec.sideY[0]);
    addText(sec.side[1], 'side', 55, sec.sideY[1]);
    sec.series.forEach((list, mi) => {
        list.forEach((values, r) => {
            const y = sec.y0 + r * sec.pitch;
            addText(sec.genes[mi][r], 'gene', geneX[mi], y);
            drawSpark(plotLeft[mi], y - 1, sec.h, values, sec.max);
        });
    });
});
</script>
</body>
</html>
